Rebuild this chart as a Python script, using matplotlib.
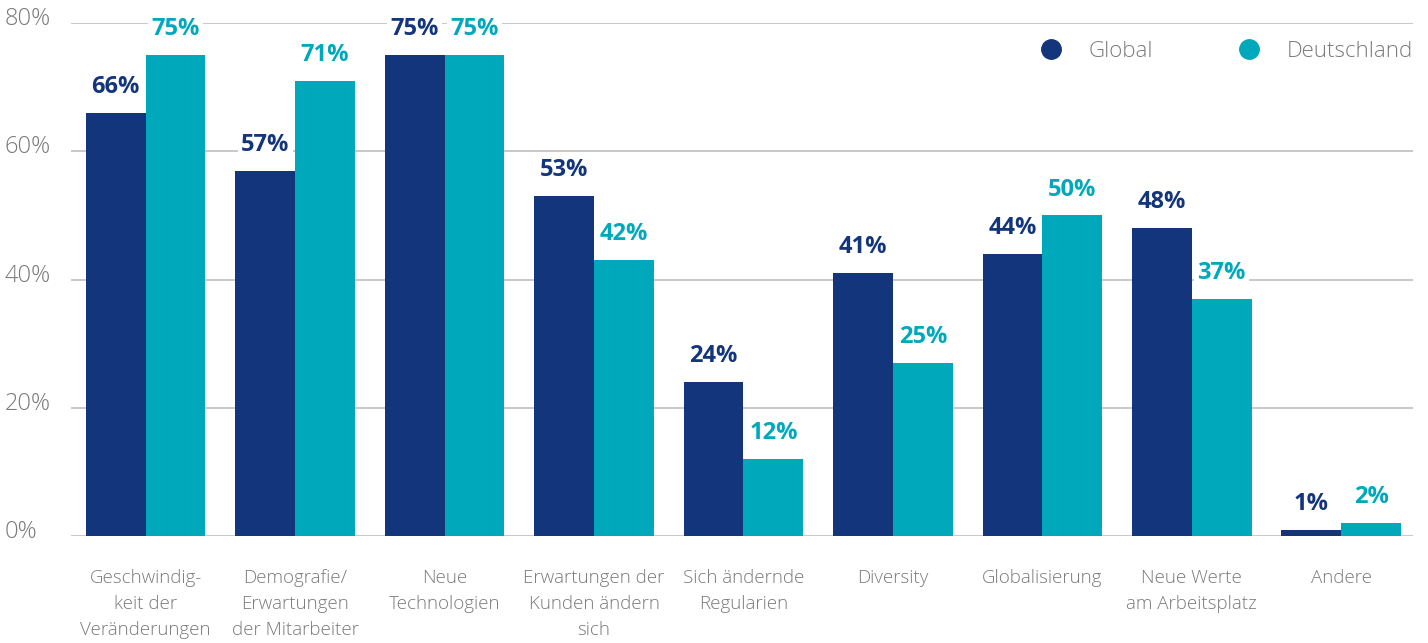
import matplotlib.pyplot as plt
import numpy as np
from matplotlib.lines import Line2D
from matplotlib.transforms import blended_transform_factory

plt.rcParams['font.family'] = ['Open Sans', 'DejaVu Sans']

categories = ['Geschwindig-\nkeit der\nVeränderungen',
              'Demografie/\nErwartungen\nder Mitarbeiter',
              'Neue\nTechnologien',
              'Erwartungen der\nKunden ändern\nsich',
              'Sich ändernde\nRegularien',
              'Diversity',
              'Globalisierung',
              'Neue Werte\nam Arbeitsplatz',
              'Andere']
global_vals = [66, 57, 75, 53, 24, 41, 44, 48, 1]
de_vals = [75, 71, 75, 43, 12, 27, 50, 37, 2]
global_labels = ['66%', '57%', '75%', '53%', '24%', '41%', '44%', '48%', '1%']
de_labels = ['75%', '71%', '75%', '42%', '12%', '25%', '50%', '37%', '2%']
yticks = [0, 20, 40, 60, 80]

c_global = '#13357b'
c_de = '#00a8bc'
c_grey = '#7a7a7a'

fig = plt.figure(figsize=(14.28, 6.43), dpi=100)
ax = fig.add_axes([0.0497, 0.1664, 0.9398, 0.7978])

x = np.arange(len(categories))
w = 0.4
ax.bar(x - w / 2, global_vals, w, color=c_global, zorder=2)
ax.bar(x + w / 2, de_vals, w, color=c_de, zorder=2)

for i in range(len(x)):
    ax.annotate(global_labels[i], (x[i] - w / 2, global_vals[i]), xytext=(0, 10),
                textcoords='offset points', ha='center', va='bottom',
                fontsize=17, fontweight='bold', color=c_global, zorder=3,
                bbox=dict(boxstyle='square,pad=0.15', fc='white', ec='none'))
    ax.annotate(de_labels[i], (x[i] + w / 2, de_vals[i]), xytext=(0, 10),
                textcoords='offset points', ha='center', va='bottom',
                fontsize=17, fontweight='bold', color=c_de, zorder=3,
                bbox=dict(boxstyle='square,pad=0.15', fc='white', ec='none'))

ax.set_xlim(-0.5, 8.48)
ax.set_ylim(0, 80)
ax.set_yticks(yticks)
ax.yaxis.grid(True, color='#c8c8c8', linewidth=1.4, zorder=0)
ax.set_axisbelow(True)
ax.tick_params(axis='y', left=False, labelleft=False)
ax.set_xticks(x)
ax.set_xticklabels(categories, fontsize=13.5, color=c_grey, fontweight='light',
                   linespacing=1.6)
ax.tick_params(axis='x', bottom=False, pad=20)
for s in ax.spines.values():
    s.set_visible(False)

trans = blended_transform_factory(fig.transFigure, ax.transData)
for t in yticks:
    ax.annotate(f'{t}%', (5 / 1428, t), xycoords=trans, xytext=(0, -1.5),
                textcoords='offset points', ha='left', va='baseline',
                fontsize=17, color=c_grey, fontweight='light')

handles = [Line2D([], [], marker='o', ls='none', markersize=14, color=c_global),
           Line2D([], [], marker='o', ls='none', markersize=14, color=c_de)]
leg = ax.legend(handles, ['Global', 'Deutschland'], ncol=2, frameon=False,
                loc='upper right', bbox_to_anchor=(1.0, 0.965), fontsize=16,
                handletextpad=0.7, columnspacing=3.3, borderaxespad=0,
                borderpad=0)
for t in leg.get_texts():
    t.set_color(c_grey)
    t.set_fontweight('light')

fig.savefig('out.png', dpi=100)
